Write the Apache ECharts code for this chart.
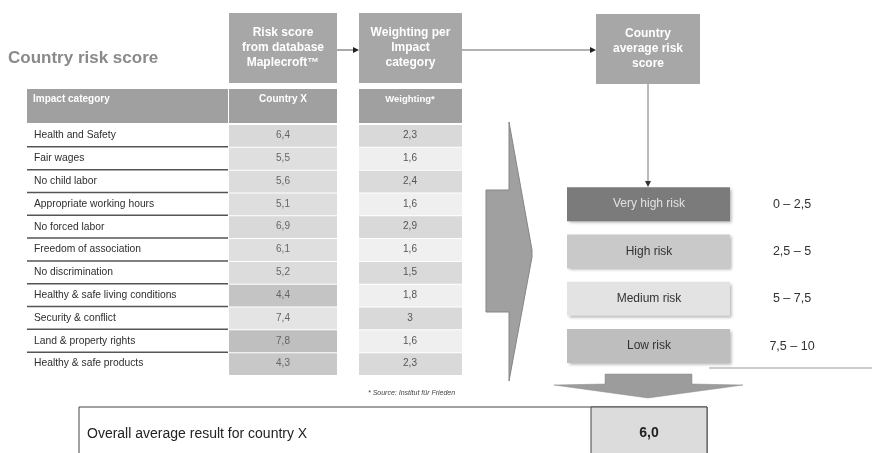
<!DOCTYPE html>
<html>
<head>
<meta charset="utf-8">
<script src="https://cdn.jsdelivr.net/npm/echarts@6/dist/echarts.min.js"></script>
<style>
  html, body { margin: 0; padding: 0; background: #fff; }
  #chart { width: 872px; height: 453px; }
</style>
</head>
<body>
<div id="chart"></div>
<script>
// Impact categories and their scores
const impactCategories = [
  'Health and Safety', 'Fair wages', 'No child labor', 'Appropriate working hours',
  'No forced labor', 'Freedom of association', 'No discrimination',
  'Healthy & safe living conditions', 'Security & conflict', 'Land & property rights',
  'Healthy & safe products'
];
const countryScores = [6.4, 5.5, 5.6, 5.1, 6.9, 6.1, 5.2, 4.4, 7.4, 7.8, 4.3];
const weightings = [2.3, 1.6, 2.4, 1.6, 2.9, 1.6, 1.5, 1.8, 3, 1.6, 2.3];

// Risk classes and their score ranges
const riskLevels = ['Very high risk', 'High risk', 'Medium risk', 'Low risk'];
const riskLower = [0, 2.5, 5, 7.5];
const riskUpper = [2.5, 5, 7.5, 10];

const overallResult = 6.0;

// Cell shading
const scoreFills = ['#d9d9d9', '#dfdfdf', '#dcdcdc', '#dedede', '#d9d9d9', '#dfdfdf',
  '#dcdcdc', '#c4c4c4', '#e4e4e4', '#bfbfbf', '#c8c8c8'];
const weightFills = ['#d9d9d9', '#efefef', '#dadada', '#efefef', '#d9d9d9', '#f0f0f0',
  '#dadada', '#efefef', '#d9d9d9', '#efefef', '#d9d9d9'];
const riskFills = ['#7b7b7b', '#c9c9c9', '#e3e3e3', '#bebebe'];
const riskTextColors = ['#e2e2e2', '#333333', '#333333', '#333333'];

const FONT = '"Liberation Sans", Arial, sans-serif';
const fmt = v => String(v).replace('.', ',');

const chart = echarts.init(document.getElementById('chart'), null, { renderer: 'canvas' });

const headerBox = (x, y, w, h, text) => ({
  type: 'group',
  children: [
    { type: 'rect', shape: { x, y, width: w, height: h }, style: { fill: '#a7a7a7' } },
    {
      type: 'text', x: x + w / 2, y: y + h / 2,
      style: {
        text, fill: '#ffffff', font: 'bold 12px ' + FONT, lineHeight: 15,
        align: 'center', verticalAlign: 'middle'
      }
    }
  ]
});

const option = {
  animation: false,
  backgroundColor: '#ffffff',
  grid: [
    { left: 27, top: 124, width: 435, height: 251 },
    { left: 567, top: 180.5, width: 300, height: 189.2 }
  ],
  xAxis: [
    { type: 'value', gridIndex: 0, min: 0, max: 1, show: false },
    { type: 'value', gridIndex: 1, min: 0, max: 1, show: false }
  ],
  yAxis: [
    { type: 'category', gridIndex: 0, inverse: true, data: impactCategories, show: false },
    { type: 'category', gridIndex: 1, inverse: true, data: riskLevels, show: false }
  ],
  series: [
    {
      // table rows: category, score cell, weighting cell
      type: 'custom',
      xAxisIndex: 0, yAxisIndex: 0,
      encode: { x: 0, y: 1 },
      data: impactCategories.map((c, i) => [0, i, countryScores[i], weightings[i]]),
      renderItem: (params, api) => {
        const i = api.value(1);
        const cy = api.coord([0, i])[1];
        const h = api.size([0, 1])[1];
        const top = cy - h / 2;
        const left = params.coordSys.x;
        const children = [
          {
            type: 'text', x: left + 7, y: cy,
            style: { text: impactCategories[i], fill: '#2e2e2e', font: '10.3px ' + FONT, verticalAlign: 'middle' }
          },
          {
            type: 'rect', shape: { x: left + 202, y: top + 1, width: 108, height: h - 1 },
            style: { fill: scoreFills[i] }
          },
          {
            type: 'text', x: left + 256, y: cy,
            style: { text: fmt(api.value(2)), fill: '#666', font: '10px ' + FONT, align: 'center', verticalAlign: 'middle' }
          },
          {
            type: 'rect', shape: { x: left + 332, y: top + 1, width: 103, height: h - 1 },
            style: { fill: weightFills[i] }
          },
          {
            type: 'text', x: left + 383, y: cy,
            style: { text: fmt(api.value(3)), fill: '#555', font: '10px ' + FONT, align: 'center', verticalAlign: 'middle' }
          }
        ];
        if (i < impactCategories.length - 1) {
          children.push({
            type: 'line', shape: { x1: left, y1: top + h, x2: left + 201, y2: top + h },
            style: { stroke: '#555', lineWidth: 1.5 }
          });
        }
        return { type: 'group', children };
      }
    },
    {
      // risk classes with score ranges
      type: 'custom',
      xAxisIndex: 1, yAxisIndex: 1,
      encode: { x: 0, y: 1 },
      data: riskLevels.map((r, i) => [0, i, riskLower[i], riskUpper[i]]),
      renderItem: (params, api) => {
        const i = api.value(1);
        const cy = api.coord([0, i])[1];
        const left = params.coordSys.x;
        const bh = 34;
        return {
          type: 'group',
          children: [
            {
              type: 'rect', shape: { x: left, y: cy - bh / 2, width: 163, height: bh },
              style: {
                fill: riskFills[i], shadowBlur: 3, shadowOffsetX: 1.5, shadowOffsetY: 2,
                shadowColor: 'rgba(0,0,0,0.3)'
              }
            },
            {
              type: 'text', x: left + 82, y: cy,
              style: { text: riskLevels[i], fill: riskTextColors[i], font: '12px ' + FONT, align: 'center', verticalAlign: 'middle' }
            },
            {
              type: 'text', x: left + 225, y: cy,
              style: {
                text: fmt(api.value(2)) + ' \u2013 ' + fmt(api.value(3)),
                fill: '#333', font: '12.5px ' + FONT, align: 'center', verticalAlign: 'middle'
              }
            }
          ]
        };
      }
    }
  ],
  graphic: [
    {
      type: 'text', x: 8, y: 58,
      style: { text: 'Country risk score', fill: '#8a8a8a', font: 'bold 17px ' + FONT, verticalAlign: 'middle' }
    },
    headerBox(229, 13, 108, 70, 'Risk score\nfrom database\nMaplecroft\u2122'),
    headerBox(359, 13, 103, 70, 'Weighting per\nImpact\ncategory'),
    headerBox(596, 14, 104, 70, 'Country\naverage risk\nscore'),
    // flow arrows
    { type: 'line', shape: { x1: 337, y1: 50, x2: 354, y2: 50 }, style: { stroke: '#555', lineWidth: 1 } },
    { type: 'polygon', shape: { points: [[353, 47], [359, 50], [353, 53]] }, style: { fill: '#222' } },
    { type: 'line', shape: { x1: 462, y1: 50, x2: 591, y2: 50 }, style: { stroke: '#666', lineWidth: 1 } },
    { type: 'polygon', shape: { points: [[590, 47], [596, 50], [590, 53]] }, style: { fill: '#222' } },
    { type: 'line', shape: { x1: 648, y1: 84, x2: 648, y2: 182 }, style: { stroke: '#777', lineWidth: 1 } },
    { type: 'polygon', shape: { points: [[645, 181], [648, 187], [651, 181]] }, style: { fill: '#333' } },
    // table header row
    { type: 'rect', shape: { x: 27, y: 89, width: 201, height: 34 }, style: { fill: '#a0a0a0' } },
    { type: 'rect', shape: { x: 229, y: 89, width: 108, height: 34 }, style: { fill: '#a0a0a0' } },
    { type: 'rect', shape: { x: 359, y: 89, width: 103, height: 34 }, style: { fill: '#a0a0a0' } },
    {
      type: 'text', x: 33, y: 99,
      style: { text: 'Impact category', fill: '#fff', font: 'bold 10px ' + FONT, verticalAlign: 'middle' }
    },
    {
      type: 'text', x: 283, y: 99,
      style: { text: 'Country X', fill: '#fff', font: 'bold 10px ' + FONT, align: 'center', verticalAlign: 'middle' }
    },
    {
      type: 'text', x: 410, y: 99,
      style: { text: 'Weighting*', fill: '#fff', font: 'bold 9.5px ' + FONT, align: 'center', verticalAlign: 'middle' }
    },
    // footnote
    {
      type: 'text', x: 368, y: 393,
      style: { text: '* Source: Institut f\u00fcr Frieden', fill: '#444', font: 'italic 7px ' + FONT, verticalAlign: 'middle' }
    },
    // big arrow to risk classes
    {
      type: 'polygon',
      shape: { points: [[486, 190], [509, 190], [509, 122], [532, 250], [532, 257], [509, 381], [509, 312], [486, 312]] },
      style: { fill: '#a0a0a0', stroke: '#858585', lineWidth: 1 }
    },
    // separator under risk table
    { type: 'line', shape: { x1: 709, y1: 368, x2: 872, y2: 368 }, style: { stroke: '#999', lineWidth: 1 } },
    // down arrow to result
    {
      type: 'polygon',
      shape: { points: [[605, 374], [692, 374], [692, 384], [743, 385], [648, 398], [554, 385], [605, 384]] },
      style: { fill: '#9c9c9c', stroke: '#8a8a8a', lineWidth: 0.5 }
    },
    // result box
    { type: 'rect', shape: { x: 79, y: 407, width: 628, height: 60 }, style: { fill: '#fff', stroke: '#444', lineWidth: 1 } },
    { type: 'rect', shape: { x: 591, y: 407, width: 116, height: 60 }, style: { fill: '#dcdcdc', stroke: '#444', lineWidth: 1 } },
    {
      type: 'text', x: 87, y: 434,
      style: { text: 'Overall average result for country X', fill: '#222', font: '14px ' + FONT, verticalAlign: 'middle' }
    },
    {
      type: 'text', x: 649, y: 433,
      style: { text: overallResult.toFixed(1).replace('.', ','), fill: '#222', font: 'bold 14px ' + FONT, align: 'center', verticalAlign: 'middle' }
    }
  ]
};

chart.setOption(option);
</script>
</body>
</html>
